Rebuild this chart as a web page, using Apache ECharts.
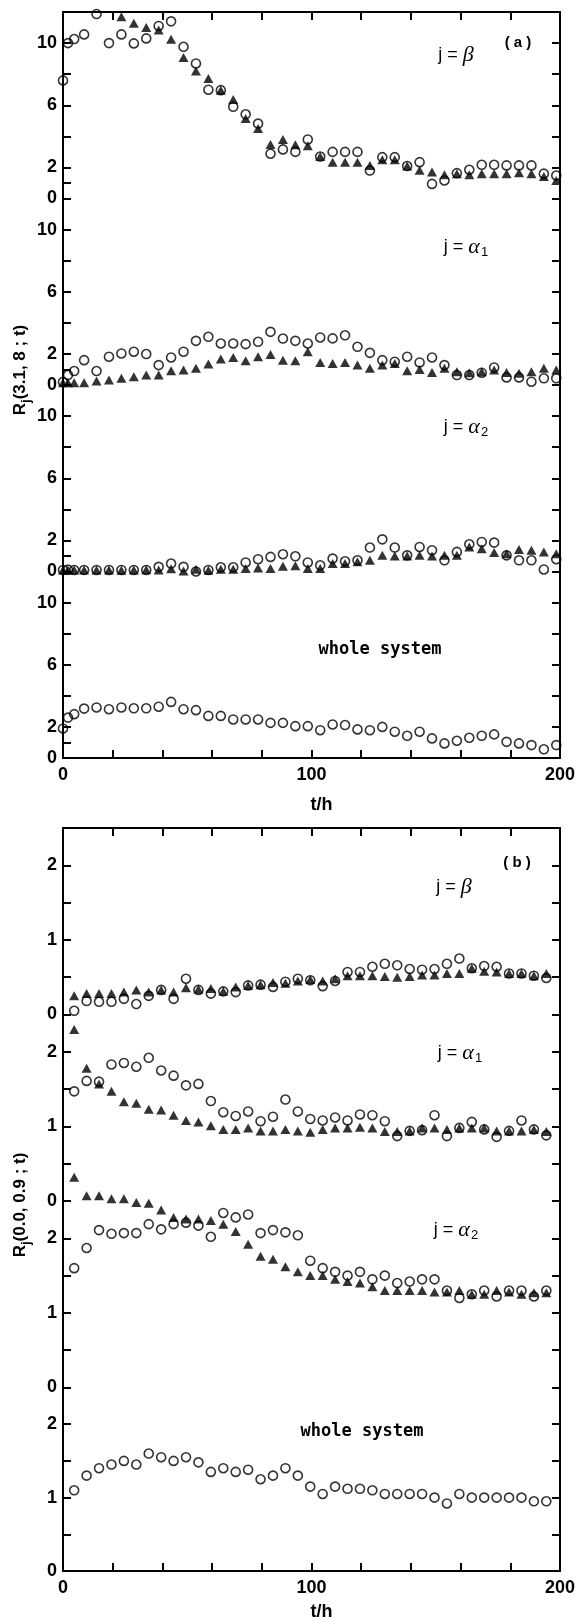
<!DOCTYPE html>
<html>
<head>
<meta charset="utf-8">
<script src="https://cdn.jsdelivr.net/npm/echarts@6/dist/echarts.min.js"></script>
<style>
  html, body { margin: 0; padding: 0; background: #fff; }
  #chart { width: 580px; height: 1622px; }
</style>
</head>
<body>
<div id="chart"></div>
<script>
// sampling times (h)
const tA = [0, 2, 4.5, 8.5, 13.5, 18.5, 23.5, 28.5, 33.5, 38.5, 43.5, 48.5, 53.5, 58.5, 63.5, 68.5, 73.5, 78.5, 83.5, 88.5, 93.5,
  98.5, 103.5, 108.5, 113.5, 118.5, 123.5, 128.5, 133.5, 138.5, 143.5, 148.5, 153.5, 158.5, 163.5, 168.5, 173.5, 178.5, 183.5, 188.5, 193.5, 198.5]
const tB = [4.5, 9.5, 14.5, 19.5, 24.5, 29.5, 34.5, 39.5, 44.5, 49.5, 54.5, 59.5, 64.5, 69.5, 74.5, 79.5, 84.5, 89.5, 94.5,
  99.5, 104.5, 109.5, 114.5, 119.5, 124.5, 129.5, 134.5, 139.5, 144.5, 149.5, 154.5, 159.5, 164.5, 169.5, 174.5, 179.5, 184.5, 189.5, 194.5]

// panel (a): R_j(3.1, 8; t)
const aBetaCirc = [7.6, 10.0, 10.26, 10.56, 11.87, 10.0, 10.56, 9.98, 10.3, 11.1, 11.4, 9.76, 8.69, 7.0, 6.97, 5.9, 5.42, 4.82, 2.88, 3.16, 3.0,
  3.8, 2.7, 3.0, 3.0, 3.0, 1.8, 2.66, 2.66, 2.09, 2.34, 0.94, 1.16, 1.63, 1.85, 2.17, 2.17, 2.13, 2.13, 2.13, 1.6, 1.48]
const aBetaTri = [null, null, null, null, null, null, 11.7, 11.27, 11.0, 10.84, 10.24, 9.08, 8.2, 7.72, 6.97, 6.37, 5.14, 4.5, 3.48, 3.79, 3.46,
  3.4, 2.7, 2.34, 2.34, 2.34, 2.13, 2.5, 2.5, 2.09, 1.81, 1.7, 1.53, 1.6, 1.53, 1.6, 1.6, 1.6, 1.66, 1.6, 1.42, 1.16]
const aA1Circ = [0.2, 0.64, 0.9, 1.6, 0.9, 1.82, 2.03, 2.14, 1.99, 1.28, 1.77, 2.14, 2.84, 3.1, 2.67, 2.67, 2.63, 2.78, 3.42, 2.99, 2.84,
  2.67, 3.06, 3.0, 3.2, 2.46, 2.07, 1.6, 1.5, 1.82, 1.45, 1.77, 1.28, 0.64, 0.64, 0.79, 1.13, 0.49, 0.49, 0.21, 0.43, 0.43]
const aA1Tri = [0.15, 0.15, 0.15, 0.15, 0.26, 0.32, 0.43, 0.53, 0.64, 0.64, 0.92, 0.96, 1.07, 1.35, 1.67, 1.77, 1.56, 1.82, 1.96, 1.6, 1.56,
  2.14, 1.45, 1.39, 1.45, 1.28, 1.07, 1.28, 1.39, 0.92, 1.0, 0.81, 1.07, 0.85, 0.79, 0.85, 0.96, 0.81, 0.75, 0.85, 1.07, 0.96]
const aA2Circ = [0.1, 0.12, 0.1, 0.1, 0.1, 0.1, 0.1, 0.1, 0.1, 0.3, 0.51, 0.3, 0.0, 0.1, 0.27, 0.27, 0.58, 0.79, 0.94, 1.11, 0.98,
  0.58, 0.4, 0.83, 0.66, 0.72, 1.54, 2.07, 1.54, 1.04, 1.58, 1.37, 0.72, 1.26, 1.75, 1.9, 1.86, 1.04, 0.72, 0.72, 0.13, 0.79]
const aA2Tri = [0.1, 0.1, 0.1, 0.1, 0.1, 0.1, 0.08, 0.1, 0.12, 0.1, 0.17, 0.04, 0.15, 0.08, 0.15, 0.15, 0.19, 0.23, 0.19, 0.33, 0.37,
  0.19, 0.19, 0.51, 0.51, 0.62, 0.72, 1.04, 1.0, 1.0, 1.04, 1.0, 1.04, 1.04, 1.58, 1.47, 1.22, 1.15, 1.41, 1.37, 1.26, 1.15]
const aWhole = [1.9, 2.6, 2.82, 3.18, 3.25, 3.14, 3.25, 3.2, 3.2, 3.3, 3.61, 3.14, 3.08, 2.71, 2.71, 2.48, 2.48, 2.48, 2.26, 2.26, 2.05,
  2.05, 1.79, 2.16, 2.12, 1.84, 1.79, 2.0, 1.69, 1.43, 1.69, 1.26, 0.94, 1.11, 1.3, 1.43, 1.52, 1.04, 0.94, 0.83, 0.56, 0.83]

// panel (b): R_j(0.0, 0.9; t)
const bBetaCirc = [0.05, 0.18, 0.17, 0.17, 0.21, 0.14, 0.25, 0.33, 0.21, 0.48, 0.33, 0.28, 0.31, 0.3, 0.39, 0.4, 0.37, 0.44, 0.48,
  0.46, 0.38, 0.45, 0.57, 0.57, 0.64, 0.68, 0.66, 0.61, 0.6, 0.61, 0.68, 0.75, 0.62, 0.65, 0.64, 0.55, 0.55, 0.52, 0.49]
const bBetaTri = [0.25, 0.28, 0.28, 0.28, 0.3, 0.33, 0.3, 0.33, 0.3, 0.36, 0.34, 0.35, 0.31, 0.37, 0.39, 0.4, 0.43, 0.42, 0.45,
  0.47, 0.45, 0.48, 0.52, 0.52, 0.52, 0.51, 0.5, 0.51, 0.53, 0.53, 0.55, 0.55, 0.62, 0.58, 0.57, 0.55, 0.55, 0.52, 0.55]
const bA1Circ = [1.47, 1.61, 1.6, 1.83, 1.85, 1.8, 1.92, 1.75, 1.68, 1.55, 1.57, 1.34, 1.19, 1.14, 1.2, 1.07, 1.13, 1.36, 1.2,
  1.1, 1.08, 1.12, 1.08, 1.16, 1.15, 1.07, 0.87, 0.94, 0.95, 1.15, 0.87, 0.98, 1.06, 0.96, 0.86, 0.94, 1.08, 0.96, 0.88]
const bA1Tri = [2.3, 1.78, 1.57, 1.47, 1.33, 1.31, 1.23, 1.22, 1.15, 1.08, 1.06, 1.01, 0.96, 0.96, 0.98, 0.94, 0.94, 0.96, 0.94,
  0.92, 0.96, 0.98, 0.98, 0.99, 0.98, 0.93, 0.93, 0.94, 0.98, 0.98, 0.96, 0.98, 0.98, 0.98, 0.94, 0.94, 0.94, 0.96, 0.93]
const bA2Circ = [1.6, 1.87, 2.11, 2.06, 2.07, 2.07, 2.19, 2.12, 2.19, 2.21, 2.17, 2.02, 2.34, 2.28, 2.32, 2.07, 2.11, 2.08, 2.04,
  1.7, 1.6, 1.55, 1.5, 1.55, 1.45, 1.5, 1.4, 1.42, 1.45, 1.45, 1.3, 1.2, 1.25, 1.3, 1.22, 1.3, 1.3, 1.22, 1.3]
const bA2Tri = [2.82, 2.57, 2.57, 2.53, 2.53, 2.48, 2.47, 2.38, 2.28, 2.26, 2.26, 2.24, 2.19, 2.09, 1.92, 1.76, 1.72, 1.62, 1.55,
  1.5, 1.5, 1.45, 1.42, 1.4, 1.35, 1.3, 1.3, 1.3, 1.3, 1.28, 1.28, 1.3, 1.25, 1.25, 1.3, 1.28, 1.25, 1.27, 1.27]
const bWhole = [1.1, 1.3, 1.4, 1.45, 1.5, 1.45, 1.6, 1.55, 1.5, 1.55, 1.48, 1.35, 1.4, 1.35, 1.38, 1.25, 1.3, 1.4, 1.3,
  1.15, 1.05, 1.15, 1.12, 1.12, 1.1, 1.05, 1.05, 1.05, 1.05, 1.0, 0.92, 1.05, 1.0, 1.0, 1.0, 1.0, 1.0, 0.95, 0.95]

// axis ticks / labels
const xLabels = [0, 100, 200]
const aTicksLeft = [0, 1, 2, 4, 6, 8, 10]
const aTicksRight = [0, 2, 4, 6, 8, 10]
const aLabels = [0, 2, 6, 10]
const bTicks = [0, 0.5, 1, 1.5, 2]
const bLabels = [0, 1, 2]

const FONT = "'Liberation Sans', Arial, sans-serif"
const H = 186.5

const chart = echarts.init(document.getElementById('chart'))

const panels = [
  { top: 12, max: 12, step: 2, lt: aTicksLeft, rt: aTicksRight, lab: aLabels, t: tA, circ: aBetaCirc, tri: aBetaTri, first: true },
  { top: 12 + H, max: 12, step: 2, lt: aTicksLeft, rt: aTicksRight, lab: aLabels, t: tA, circ: aA1Circ, tri: aA1Tri },
  { top: 12 + 2 * H, max: 12, step: 2, lt: aTicksLeft, rt: aTicksRight, lab: aLabels, t: tA, circ: aA2Circ, tri: aA2Tri },
  { top: 12 + 3 * H, max: 12, step: 2, lt: aTicksLeft, rt: aTicksRight, lab: aLabels, t: tA, circ: aWhole, last: true, gap: 38 },
  { top: 828, max: 2.5, step: 0.5, lt: bTicks, rt: bTicks, lab: bLabels, t: tB, circ: bBetaCirc, tri: bBetaTri, first: true },
  { top: 828 + H, max: 2.5, step: 0.5, lt: bTicks, rt: bTicks, lab: bLabels, t: tB, circ: bA1Circ, tri: bA1Tri },
  { top: 828 + 2 * H, max: 2.5, step: 0.5, lt: bTicks, rt: bTicks, lab: bLabels, t: tB, circ: bA2Circ, tri: bA2Tri },
  { top: 828 + 3 * H, max: 2.5, step: 0.5, lt: bTicks, rt: bTicks, lab: bLabels, t: tB, circ: bWhole, last: true, gap: 32 }
]

const line = { color: '#000', width: 2 }
const tick = { color: '#000', width: 2 }
const labelStyle = { color: '#000', fontFamily: FONT, fontWeight: 'bold', fontSize: 18 }

const grid = []
const xAxis = []
const yAxis = []
const series = []

const pts = (t, v) => t.map((x, k) => [x, v[k]]).filter(p => p[1] != null)

panels.forEach((p, i) => {
  grid.push({ left: 63, width: 497, top: p.top, height: H })
  // bottom / top x axes (only the outer ones are drawn)
  xAxis.push({
    gridIndex: i, type: 'value', min: 0, max: 200, interval: 20, position: 'bottom',
    axisLine: { show: !!p.last, onZero: false, lineStyle: line },
    axisTick: { show: !!p.last, inside: true, length: 8, lineStyle: tick },
    axisLabel: { show: !!p.last, customValues: xLabels, margin: 8, ...labelStyle },
    splitLine: { show: false },
    name: p.last ? 't/h' : '', nameLocation: 'middle', nameGap: p.gap || 32,
    nameTextStyle: { ...labelStyle, padding: [0, 0, 0, 20] }
  })
  xAxis.push({
    gridIndex: i, type: 'value', min: 0, max: 200, interval: 20, position: 'top',
    axisLine: { show: !!p.first, onZero: false, lineStyle: line },
    axisTick: { show: !!p.first, inside: true, length: 8, lineStyle: tick },
    axisLabel: { show: false }, splitLine: { show: false }
  })
  yAxis.push({
    gridIndex: i, type: 'value', min: 0, max: p.max, interval: p.step, position: 'left',
    axisLine: { show: true, onZero: false, lineStyle: line },
    axisTick: { show: true, inside: true, length: 8, customValues: p.lt, lineStyle: tick },
    axisLabel: { show: true, customValues: p.lab, margin: 6, ...labelStyle },
    splitLine: { show: false }
  })
  yAxis.push({
    gridIndex: i, type: 'value', min: 0, max: p.max, interval: p.step, position: 'right',
    axisLine: { show: true, onZero: false, lineStyle: line },
    axisTick: { show: true, inside: true, length: 8, customValues: p.rt, lineStyle: tick },
    axisLabel: { show: false }, splitLine: { show: false }
  })
  if (p.tri) {
    series.push({
      type: 'scatter', xAxisIndex: 2 * i, yAxisIndex: 2 * i, clip: false,
      symbol: 'triangle', symbolSize: [10, 9],
      itemStyle: { color: '#000' },
      data: pts(p.t, p.tri)
    })
  }
  series.push({
    type: 'scatter', xAxisIndex: 2 * i, yAxisIndex: 2 * i, clip: false,
    symbol: 'circle', symbolSize: 9,
    itemStyle: { color: 'rgba(0,0,0,0)', borderColor: '#000', borderWidth: 1.6 },
    data: pts(p.t, p.circ)
  })
})

const txt = (x, y, text, rich, extra) => ({
  type: 'text', x, y, ...extra,
  style: { text, rich, align: 'center', verticalAlign: 'middle', fill: '#000' }
})

const jRich = {
  j: { fontFamily: FONT, fontSize: 18, fill: '#000' },
  g: { fontFamily: "'Liberation Serif', serif", fontStyle: 'italic', fontSize: 22, fill: '#000' },
  s: { fontFamily: FONT, fontSize: 13, fill: '#000', padding: [10, 0, 0, 1] }
}
const tagRich = { p: { fontFamily: FONT, fontSize: 15, fontWeight: 'bold', fill: '#000' } }
const wsRich = { w: { fontFamily: "'DejaVu Sans Mono', monospace", fontSize: 17, fontWeight: 'bold', fill: '#000' } }
const yRich = {
  r: { fontFamily: FONT, fontSize: 17, fontWeight: 'bold', fill: '#000' },
  s: { fontFamily: FONT, fontSize: 13, fontWeight: 'bold', fill: '#000', padding: [12, 0, 0, 0] }
}

const graphic = [
  txt(518, 43, '{p|( a )}', tagRich),
  txt(456, 55, '{j|j = }{g|β}', jRich),
  txt(466, 247, '{j|j = }{g|α}{s|1}', jRich),
  txt(466, 427, '{j|j = }{g|α}{s|2}', jRich),
  txt(380, 650, '{w|whole system}', wsRich),
  txt(517, 863, '{p|( b )}', tagRich),
  txt(454, 887, '{j|j = }{g|β}', jRich),
  txt(460, 1053, '{j|j = }{g|α}{s|1}', jRich),
  txt(456, 1230, '{j|j = }{g|α}{s|2}', jRich),
  txt(362, 1432, '{w|whole system}', wsRich),
  txt(20, 370, '{r|R}{s|j}{r|(3.1, 8 ; t)}', yRich, { rotation: Math.PI / 2 }),
  txt(20, 1205, '{r|R}{s|j}{r|(0.0, 0.9 ; t)}', yRich, { rotation: Math.PI / 2 })
]

chart.setOption({
  backgroundColor: '#fff',
  animation: false,
  grid, xAxis, yAxis, series, graphic
})
</script>
</body>
</html>
